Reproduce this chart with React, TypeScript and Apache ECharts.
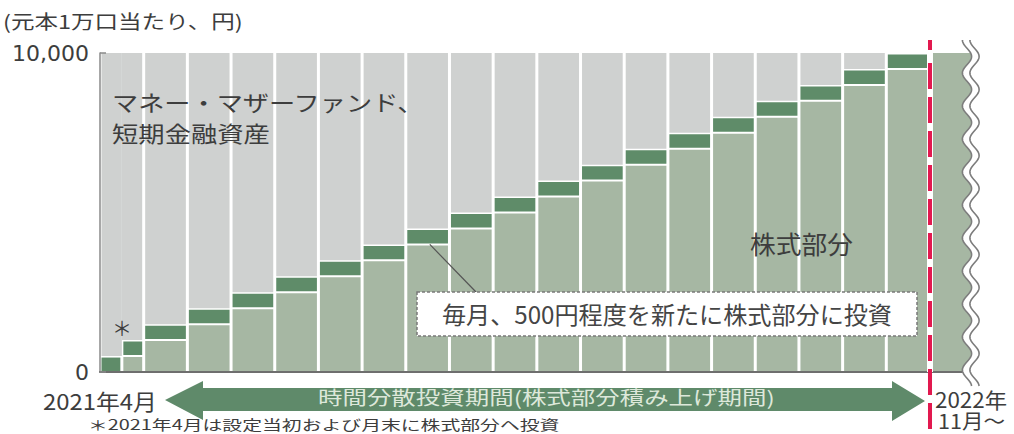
import React, { useEffect, useRef } from 'react';
import * as echarts from 'echarts';

// ---- data ----
const months = ['2021年4月', '2021年4月', '2021年5月', '2021年6月', '2021年7月', '2021年8月', '2021年9月', '2021年10月', '2021年11月', '2021年12月', '2022年1月', '2022年2月', '2022年3月', '2022年4月', '2022年5月', '2022年6月', '2022年7月', '2022年8月', '2022年9月', '2022年10月'];
const stockHeld = [0, 500, 1000, 1500, 2000, 2500, 3000, 3500, 4000, 4500, 5000, 5500, 6000, 6500, 7000, 7500, 8000, 8500, 9000, 9500];
const newInvest = [500, 500, 500, 500, 500, 500, 500, 500, 500, 500, 500, 500, 500, 500, 500, 500, 500, 500, 500, 500];
const mmfPart = [9500, 9000, 8500, 8000, 7500, 7000, 6500, 6000, 5500, 5000, 4500, 4000, 3500, 3000, 2500, 2000, 1500, 1000, 500, 0];
const afterStock = [10000];
const yTicks = [0, 10000];

const startLabel = '2021年4月';
const endLabel1 = '2022年';
const endLabel2 = '11月〜';

// ---- styles ----
const GRAY = '#cfd1d0';
const LIGHT = '#a6b7a3';
const DARK = '#5f8c69';
const ARROW = '#5f8a6a';
const TEXT = '#3d3d3d';
const RED = '#e2194f';
const JP = '"Noto Sans CJK JP", "Noto Sans", sans-serif';

// slot grouping derived from the month list
const slotKeys: string[] = [];
const barSlot: number[] = [];
const barPart: number[] = [];
months.forEach((m, i) => {
  if (i === 0 || months[i - 1] !== m) slotKeys.push(m);
  barSlot.push(slotKeys.length - 1);
});
const barParts: number[] = months.map((m) => months.filter((x) => x === m).length);
months.forEach((m, i) => {
  barPart.push(months.slice(0, i).filter((x) => x === m).length);
});
const slotCount = slotKeys.length; // 19

let measureCtx: CanvasRenderingContext2D | null = null;
function measure(text: string, size: number) {
  if (!measureCtx) measureCtx = document.createElement('canvas').getContext('2d');
  measureCtx!.font = `${size}px ${JP}`;
  return measureCtx!.measureText(text).width;
}

function fitText(text: string, left: number, right: number, cy: number, size: number, color: string, scaleY = 1) {
  const w = measure(text, size);
  const sx = (right - left) / w;
  return {
    type: 'text',
    x: left,
    y: cy,
    scaleX: sx,
    scaleY,
    z: 120,
    style: {
      text,
      font: `${size}px ${JP}`,
      fill: color,
      textAlign: 'left',
      textVerticalAlign: 'middle',
      align: 'left',
      verticalAlign: 'middle',
    },
  };
}

export default function App() {
  const ref = useRef<HTMLDivElement>(null);

  useEffect(() => {
    if (!ref.current) return;
    const chart = echarts.init(ref.current, undefined, { renderer: 'svg' });

    const barData = months.map((_, i) => [i]);

    chart.setOption({
      animation: false,
      backgroundColor: '#ffffff',
      grid: { left: 100, top: 53, width: 873.68, height: 319 },
      xAxis: {
        type: 'value',
        min: 0,
        max: slotCount + 1,
        z: 10,
        axisLine: { show: true, lineStyle: { color: '#6e6e6e', width: 2 } },
        axisTick: { show: false },
        axisLabel: { show: false },
        splitLine: { show: false },
      },
      yAxis: {
        type: 'value',
        min: yTicks[0],
        max: yTicks[yTicks.length - 1],
        interval: yTicks[yTicks.length - 1] - yTicks[0],
        z: 10,
        axisLine: { show: true, lineStyle: { color: '#8a8a8a', width: 1.5 } },
        axisTick: { show: true, inside: true, length: 6, lineStyle: { color: '#8a8a8a', width: 1.5 } },
        axisLabel: {
          margin: 11,
          fontSize: 22,
          fontFamily: 'DejaVu Sans',
          color: TEXT,
          formatter: (v: number) => v.toLocaleString('en-US'),
        },
        splitLine: { show: false },
      },
      series: [
        {
          type: 'custom',
          name: 'fund',
          data: barData,
          renderItem: (params: any, api: any) => {
            const i = params.dataIndex;
            const s = barSlot[i];
            const k = barPart[i];
            const n = barParts[i];
            const x0 = s + k / n;
            const x1 = s + (k + 1) / n;
            const pa = api.coord([x0, 0]);
            const pb = api.coord([x1, 0]);
            const y0 = pa[1];
            const yS = api.coord([x0, stockHeld[i]])[1];
            const yN = api.coord([x0, stockHeld[i] + newInvest[i]])[1];
            const yT = api.coord([x0, stockHeld[i] + newInvest[i] + mmfPart[i]])[1];
            const g = 1.5;
            const gl = k === 0 ? g : 0;
            const gr = k === n - 1 ? g : 0;
            const children: any[] = [];
            if (mmfPart[i] > 0) {
              children.push({
                type: 'rect',
                shape: { x: pa[0] + gl, y: yT, width: pb[0] - gr - (pa[0] + gl), height: yN - yT },
                style: { fill: GRAY },
              });
            }
            if (stockHeld[i] > 0) {
              children.push({
                type: 'rect',
                shape: { x: pa[0] + g, y: yS + 1, width: pb[0] - pa[0] - 2 * g, height: y0 - yS - 1 },
                style: { fill: LIGHT },
              });
            }
            const darkBottom = stockHeld[i] > 0 ? yS - 1 : y0;
            children.push({
              type: 'rect',
              shape: { x: pa[0] + g, y: yN + 1.5, width: pb[0] - pa[0] - 2 * g, height: darkBottom - (yN + 1.5) },
              style: { fill: DARK },
            });
            return { type: 'group', children };
          },
        },
        {
          type: 'custom',
          name: 'after',
          data: afterStock.map((v) => [v]),
          renderItem: (params: any, api: any) => {
            const v = afterStock[params.dataIndex];
            const pa = api.coord([slotCount, 0]);
            const pb = api.coord([slotCount + 1, v]);
            return {
              type: 'rect',
              shape: { x: pa[0], y: pb[1], width: pb[0] - pa[0], height: pa[1] - pb[1] },
              style: { fill: LIGHT },
            };
          },
        },
      ],
    });

    // positions from the axes
    const redX = chart.convertToPixel({ xAxisIndex: 0 }, slotCount) as number;
    const yTop = chart.convertToPixel({ yAxisIndex: 0 }, 10000) as number;
    const yBase = chart.convertToPixel({ yAxisIndex: 0 }, 0) as number;
    const leaderStart = chart.convertToPixel({ gridIndex: 0 }, [7.55, stockHeld[8]]) as number[];

    // wavy break
    const waveTop = 40;
    const waveBottom = 386;
    const P = 33;
    const A = 4.6;
    const waveL: number[][] = [];
    const waveR: number[][] = [];
    for (let y = waveTop; y <= waveBottom; y += 1) {
      const c = Math.cos((2 * Math.PI * (y - waveTop)) / P);
      waveL.push([967 - A * c, y]);
      waveR.push([974.5 - A * c, y]);
    }
    const whitePoly = [...waveL, [1014, waveBottom], [1014, waveTop]];

    const graphic: any[] = [
      { type: 'polygon', z: 100, shape: { points: whitePoly }, style: { fill: '#ffffff' } },
      { type: 'polyline', z: 101, shape: { points: waveL }, style: { stroke: '#7d7d7d', lineWidth: 1.6, fill: null } },
      { type: 'polyline', z: 101, shape: { points: waveR }, style: { stroke: '#7d7d7d', lineWidth: 1.6, fill: null } },
      // red dashed border line
      { type: 'line', z: 102, shape: { x1: redX, y1: yTop, x2: redX, y2: yBase }, style: { stroke: '#ffffff', lineWidth: 6 } },
      { type: 'line', z: 103, shape: { x1: redX, y1: 40, x2: redX, y2: 50 }, style: { stroke: RED, lineWidth: 4 } },
      { type: 'line', z: 103, shape: { x1: redX, y1: 63, x2: redX, y2: 434 }, style: { stroke: RED, lineWidth: 4, lineDash: [26, 8] } },
      // callout
      { type: 'line', z: 104, shape: { x1: leaderStart[0], y1: leaderStart[1], x2: 476, y2: 292 }, style: { stroke: '#555555', lineWidth: 1.2 } },
      { type: 'rect', z: 104, shape: { x: 417, y: 292, width: 500, height: 44 }, style: { fill: '#ffffff', stroke: '#7a7a7a', lineWidth: 1.5, lineDash: [3, 2] } },
      // arrow
      {
        type: 'polygon',
        z: 104,
        shape: {
          points: [[165, 400], [203, 381], [203, 388], [892, 388], [892, 381], [925, 401], [892, 421], [892, 411], [203, 411], [203, 420]],
        },
        style: { fill: ARROW },
      },
      fitText('(元本1万口当たり、円)', 3, 243, 21, 19, TEXT),
      fitText('マネー・マザーファンド、', 112, 425, 101, 22, TEXT),
      fitText('短期金融資産', 112, 270, 132, 22, TEXT),
      fitText('株式部分', 750, 853, 243, 25, TEXT),
      fitText('毎月、500円程度を新たに株式部分に投資', 442, 892, 314, 24, '#454545'),
      fitText('時間分散投資期間(株式部分積み上げ期間)', 318, 775, 397, 19, '#dde8da'),
      fitText(startLabel, 43, 157, 400, 22, TEXT),
      fitText(endLabel1, 935, 1007, 399, 21, TEXT),
      fitText(endLabel2, 938, 1005, 420, 20, TEXT),
      fitText('＊2021年4月は設定当初および月末に株式部分へ投資', 88, 560, 424, 14, TEXT),
      {
        type: 'text',
        x: 122,
        y: 327,
        z: 120,
        style: { text: '＊', font: `20px ${JP}`, fill: TEXT, textAlign: 'center', textVerticalAlign: 'middle', align: 'center', verticalAlign: 'middle' },
      },
    ];

    chart.setOption({ graphic });

    return () => {
      chart.dispose();
    };
  }, []);

  return (
    <div
      ref={ref}
      style={{ position: 'absolute', left: 0, top: 0, width: 1014, height: 434, background: '#fff' }}
    />
  );
}
